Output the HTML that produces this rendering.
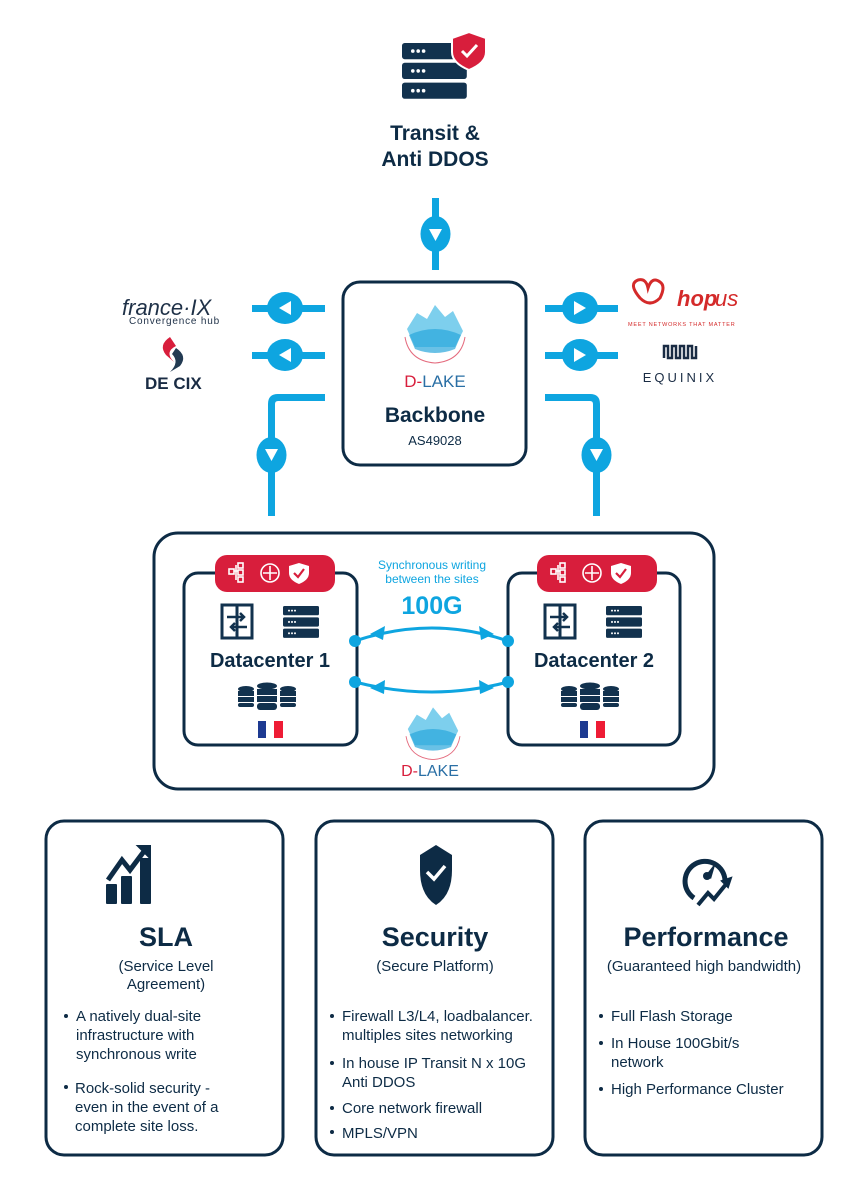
<!DOCTYPE html>
<html><head><meta charset="utf-8"><style>
html,body{margin:0;padding:0;background:#fff}
svg{display:block}
text{font-family:"Liberation Sans",sans-serif}
</style></head><body>
<svg width="868" height="1186" viewBox="0 0 868 1186" xmlns="http://www.w3.org/2000/svg">
<defs>
<g id="srv"><rect x="0" y="0" width="36" height="9" rx="1.5" fill="#12324e"/><rect x="0" y="11" width="36" height="9" rx="1.5" fill="#12324e"/><rect x="0" y="22" width="36" height="9" rx="1.5" fill="#12324e"/>
<circle cx="6" cy="4.5" r="1" fill="#fff"/><circle cx="9" cy="4.5" r="1" fill="#fff"/><circle cx="12" cy="4.5" r="1" fill="#fff"/>
<circle cx="6" cy="15.5" r="1" fill="#fff"/><circle cx="9" cy="15.5" r="1" fill="#fff"/><circle cx="12" cy="15.5" r="1" fill="#fff"/>
<circle cx="6" cy="26.5" r="1" fill="#fff"/><circle cx="9" cy="26.5" r="1" fill="#fff"/><circle cx="12" cy="26.5" r="1" fill="#fff"/></g>
<g id="lake"><path d="M-28 -10 L-18 -26 L-8 -20 L0 -34 L10 -22 L18 -28 L28 -8 L20 8 L-20 8 Z" fill="#5cc3e8" opacity="0.8"/><path d="M-26 -4 Q0 -16 26 -4 L20 10 Q0 18 -20 10Z" fill="#2aa7db" opacity="0.7"/><path d="M-30 -2 Q-26 22 0 24 Q26 22 30 -2" fill="none" stroke="#e46a7d" stroke-width="1"/></g>
<g id="dbs"><g fill="#12324e"><ellipse cx="0" cy="0" rx="8" ry="3"/><rect x="-8" y="2" width="16" height="5"/><rect x="-8" y="8" width="16" height="5"/><rect x="-8" y="14" width="16" height="4" rx="2"/>
<ellipse cx="21" cy="-3" rx="10" ry="3.5"/><rect x="11" y="0" width="20" height="6"/><rect x="11" y="7" width="20" height="6"/><rect x="11" y="14" width="20" height="7" rx="3"/>
<ellipse cx="42" cy="0" rx="8" ry="3"/><rect x="34" y="2" width="16" height="5"/><rect x="34" y="8" width="16" height="5"/><rect x="34" y="14" width="16" height="4" rx="2"/></g></g>
<g id="sw"><rect x="0" y="0" width="30" height="33" fill="none" stroke="#12324e" stroke-width="3"/><line x1="15" y1="0" x2="15" y2="33" stroke="#12324e" stroke-width="3"/><path d="M5 12 H22 M18 8 L22 12 L18 16 M25 22 H9 M13 18 L9 22 L13 26" stroke="#12324e" stroke-width="2.5" fill="none"/></g>
<g id="pill"><rect x="0" y="0" width="120" height="37" rx="12" fill="#d81e3c"/>
<g stroke="#fff" stroke-width="1.6" fill="none"><rect x="14" y="14" width="5" height="5"/><rect x="23" y="8" width="5" height="5"/><rect x="23" y="15" width="5" height="5"/><rect x="23" y="22" width="5" height="5"/><path d="M19 16 H23 M21 10 V25"/>
<circle cx="55" cy="18" r="9"/><path d="M55 11 V25 M48 18 H62"/></g>
<path d="M84 8 L94 11 V18 Q94 25 84 29 Q74 25 74 18 V11 Z" fill="#fff"/><path d="M79 18 L83 22 L89 14" stroke="#d81e3c" stroke-width="2.2" fill="none"/></g>
<g id="fr"><rect x="0" y="0" width="8" height="17" fill="#1d3a91"/><rect x="8" y="0" width="8" height="17" fill="#fff"/><rect x="16" y="0" width="9" height="17" fill="#ee1c35"/></g>
</defs>

<!-- top transit -->
<use href="#srv" transform="translate(402,43) scale(1.8,1.8)"/>
<path d="M469 32 L486 38 V52 Q486 63 469 70 Q452 63 452 52 V38 Z" fill="#d81e3c" stroke="#fff" stroke-width="2"/>
<path d="M462 51 L467 56 L477 45" stroke="#fff" stroke-width="3" fill="none"/>
<text x="435" y="140" text-anchor="middle" font-size="21" font-weight="bold" fill="#0d2b45">Transit &amp;</text>
<text x="435" y="166" text-anchor="middle" font-size="21" font-weight="bold" fill="#0d2b45">Anti DDOS</text>

<g fill="#0ea5e0">
<rect x="432" y="198" width="7" height="72"/><ellipse cx="435.5" cy="234" rx="15" ry="18"/>
<rect x="252" y="305" width="73" height="7"/><ellipse cx="285" cy="308" rx="18" ry="16"/>
<rect x="252" y="352" width="73" height="7"/><ellipse cx="285" cy="355" rx="18" ry="16"/>
<rect x="545" y="305" width="73" height="7"/><ellipse cx="580" cy="308" rx="18" ry="16"/>
<rect x="545" y="352" width="73" height="7"/><ellipse cx="580" cy="355" rx="18" ry="16"/>
<path d="M325 394 H278 Q268 394 268 404 V516 H275 V404 Q275 401 278 401 H325Z"/><ellipse cx="271.5" cy="455" rx="15" ry="18"/>
<path d="M545 394 H590 Q600 394 600 404 V516 H593 V404 Q593 401 590 401 H545Z"/><ellipse cx="596.5" cy="455" rx="15" ry="18"/>
</g>
<g fill="#fff">
<path d="M429 229 H442 L435.5 241Z"/><path d="M265 449 H278 L271.5 461Z"/><path d="M590 449 H603 L596.5 461Z"/>
<path d="M291 301 V315 L279 308Z"/><path d="M291 348 V362 L279 355Z"/>
<path d="M574 301 V315 L586 308Z"/><path d="M574 348 V362 L586 355Z"/>
</g>

<!-- logos -->
<text x="122" y="315" font-size="22" font-style="italic" fill="#1f3148" font-family="Liberation Serif,serif">france·IX</text>
<text x="129" y="324" font-size="10" fill="#1f3148" letter-spacing="0.8">Convergence hub</text>
<path d="M170 337 Q158 345 166 355 L174 362 Q164 352 176 346Z" fill="#d81e3c"/><path d="M176 348 Q188 356 180 366 L170 372 Q180 362 172 354Z" fill="#223a52"/>
<text x="145" y="389" font-size="17" font-weight="bold" fill="#1a2c44">DE CIX</text>
<path d="M640 298 q-12 -14 -2 -18 q8 -2 10 8 q4 -12 12 -6 q6 4 0 16 q-10 10 -20 0Z" fill="none" stroke="#d42a2a" stroke-width="3"/>
<text x="677" y="306" font-size="22" font-weight="bold" font-style="italic" fill="#d42a2a">hop</text><text x="715" y="306" font-size="22" font-style="italic" fill="#d42a2a">us</text>
<text x="628" y="326" font-size="5.5" fill="#d42a2a" letter-spacing="0.8">MEET NETWORKS THAT MATTER</text>
<g fill="none" stroke="#1a2c44" stroke-width="2.5"><path d="M664 358 V346 H668 V358 H672 V346 H676 V358 H680 V346 H684 V358 H688 V346 H692 V358 H696 V346"/></g>
<text x="680" y="382" text-anchor="middle" font-size="13" fill="#1a2c44" letter-spacing="3">EQUINIX</text>

<!-- backbone -->
<rect x="343" y="282" width="183" height="183" rx="17" fill="#fff" stroke="#0d2b45" stroke-width="3"/>
<use href="#lake" transform="translate(435,339)"/>
<text x="435" y="387" text-anchor="middle" font-size="17" fill="#2a6fa5"><tspan fill="#d81e3c">D-</tspan>LAKE</text>
<text x="435" y="422" text-anchor="middle" font-size="21" font-weight="bold" fill="#0d2b45">Backbone</text>
<text x="435" y="445" text-anchor="middle" font-size="13" fill="#0d2b45">AS49028</text>

<!-- datacenter block -->
<rect x="154" y="533" width="560" height="256" rx="24" fill="#fff" stroke="#0d2b45" stroke-width="3"/>
<rect x="184" y="573" width="173" height="172" rx="14" fill="#fff" stroke="#0d2b45" stroke-width="3"/>
<rect x="508" y="573" width="172" height="172" rx="14" fill="#fff" stroke="#0d2b45" stroke-width="3"/>
<use href="#pill" transform="translate(215,555)"/>
<use href="#pill" transform="translate(537,555)"/>
<use href="#sw" transform="translate(222,605)"/><use href="#srv" transform="translate(283,606) scale(1,1.03)"/>
<use href="#sw" transform="translate(545,605)"/><use href="#srv" transform="translate(606,606) scale(1,1.03)"/>
<text x="270" y="667" text-anchor="middle" font-size="20" font-weight="bold" fill="#0d2b45">Datacenter 1</text>
<text x="594" y="667" text-anchor="middle" font-size="20" font-weight="bold" fill="#0d2b45">Datacenter 2</text>
<use href="#dbs" transform="translate(246,689)"/><use href="#dbs" transform="translate(569,689)"/>
<use href="#fr" transform="translate(258,721)"/><use href="#fr" transform="translate(580,721)"/>
<text x="432" y="569" text-anchor="middle" font-size="12" fill="#0ea5e0">Synchronous writing</text>
<text x="432" y="583" text-anchor="middle" font-size="12" fill="#0ea5e0">between the sites</text>
<text x="432" y="614" text-anchor="middle" font-size="25" font-weight="bold" fill="#0ea5e0">100G</text>
<g stroke="#0ea5e0" stroke-width="3" fill="none"><path d="M355 641 Q432 615 508 641"/><path d="M355 682 Q432 702 508 682"/></g>
<g fill="#0ea5e0"><circle cx="355" cy="641" r="6"/><circle cx="508" cy="641" r="6"/><circle cx="355" cy="682" r="6"/><circle cx="508" cy="682" r="6"/>
<path d="M370 634 L385 626 L383 640Z"/><path d="M494 634 L479 626 L481 640Z"/><path d="M370 688 L385 680 L384 694Z"/><path d="M494 688 L479 680 L480 694Z"/></g>
<use href="#lake" transform="translate(433,738) scale(0.9)"/>
<text x="430" y="776" text-anchor="middle" font-size="16" fill="#2a6fa5"><tspan fill="#d81e3c">D-</tspan>LAKE</text>

<!-- cards -->
<g fill="#fff" stroke="#0d2b45" stroke-width="3">
<rect x="46" y="821" width="237" height="334" rx="18"/>
<rect x="316" y="821" width="237" height="334" rx="18"/>
<rect x="585" y="821" width="237" height="334" rx="18"/>
</g>
<!-- SLA icon -->
<g fill="#0d2b45"><rect x="106" y="884" width="11" height="20" rx="1"/><rect x="121" y="876" width="11" height="28" rx="1"/><rect x="140" y="858" width="11" height="46" rx="1"/></g>
<path d="M108 880 L122 860 L130 870 L145 850" stroke="#0d2b45" stroke-width="5" fill="none"/><path d="M138 846 L150 846 L150 858Z" fill="#0d2b45" stroke="#0d2b45" stroke-width="2"/>
<!-- shield -->
<path d="M436 845 L452 855 V870 Q452 895 436 905 Q420 895 420 870 V855Z" fill="#0d2b45"/>
<path d="M427 872 L434 879 L445 866" stroke="#fff" stroke-width="3.5" fill="none"/>
<!-- gauge -->
<path d="M694 898 A20 20 0 1 1 725 880" stroke="#0d2b45" stroke-width="5" fill="none"/>
<path d="M706 875 L716 862 L711 879Z" fill="#0d2b45"/><circle cx="707" cy="876" r="4" fill="#0d2b45"/>
<path d="M698 905 L708 893 L714 899 L727 883" stroke="#0d2b45" stroke-width="4" fill="none"/><path d="M722 881 L731 878 L728 887Z" fill="#0d2b45" stroke="#0d2b45" stroke-width="2"/>

<g font-weight="bold" font-size="27" fill="#0d2b45" text-anchor="middle">
<text x="166" y="946">SLA</text><text x="435" y="946">Security</text><text x="706" y="946">Performance</text></g>
<g font-size="15" fill="#0d2b45" text-anchor="middle">
<text x="166" y="971">(Service Level</text><text x="166" y="989">Agreement)</text>
<text x="435" y="971">(Secure Platform)</text>
<text x="704" y="971">(Guaranteed high bandwidth)</text></g>
<g font-size="15" fill="#0d2b45">
<circle cx="66" cy="1016" r="2"/><circle cx="66" cy="1087" r="2"/>
<text x="76" y="1021">A natively dual-site</text><text x="76" y="1040">infrastructure with</text><text x="76" y="1059">synchronous write</text>
<text x="75" y="1093">Rock-solid security -</text><text x="75" y="1112">even in the event of a</text><text x="75" y="1131">complete site loss.</text>
<circle cx="332" cy="1016" r="2"/><circle cx="332" cy="1063" r="2"/><circle cx="332" cy="1108" r="2"/><circle cx="332" cy="1132" r="2"/>
<text x="342" y="1021">Firewall L3/L4, loadbalancer.</text><text x="342" y="1040">multiples sites networking</text>
<text x="342" y="1068">In house IP Transit N x 10G</text><text x="342" y="1087">Anti DDOS</text>
<text x="342" y="1113">Core network firewall</text><text x="342" y="1138">MPLS/VPN</text>
<circle cx="601" cy="1016" r="2"/><circle cx="601" cy="1043" r="2"/><circle cx="601" cy="1089" r="2"/>
<text x="611" y="1021">Full Flash Storage</text><text x="611" y="1048">In House 100Gbit/s</text><text x="611" y="1067">network</text>
<text x="611" y="1094">High Performance Cluster</text>
</g>
</svg>
</body></html>
